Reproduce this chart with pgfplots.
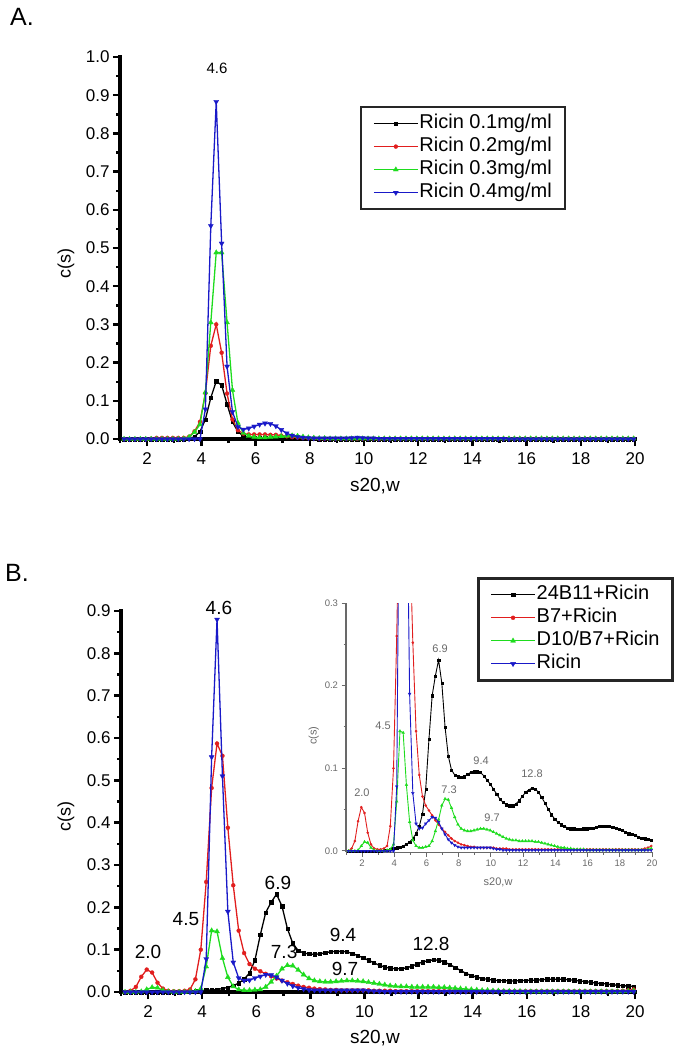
\documentclass[border=0pt]{standalone}
\usepackage{fontspec}
\setmainfont{Liberation Sans}
\usepackage{pgfplots}
\usepackage{pgfplotstable}
\pgfplotsset{compat=1.18}
\definecolor{ored}{RGB}{225,30,30}
\definecolor{ogreen}{RGB}{30,220,30}
\definecolor{oblue}{RGB}{25,25,200}
\definecolor{igray}{RGB}{105,105,105}
\tikzset{axln/.style={black, line width=3.2pt, line cap=rect}, tkln/.style={black, line width=2.4pt}}

\pgfplotstableread{
x a1 a2 a3 a4
1.15 0 0 0 0
1.35 0 0 0 0
1.55 0 0 0 0
1.75 0 0 0 0
1.95 0 0 0 0
2.15 0 0.001 0 0
2.35 0 0.003 0 0
2.55 0 0.003 0 0
2.75 0 0.003 0 0
2.95 0 0.003 0 0
3.15 0 0.003 0 0
3.35 0 0.003 0.001 0
3.55 0.001 0.006 0.005 0
3.75 0.006 0.020 0.018 0
3.95 0.019 0.045 0.038 0
4.15 0.051 0.120 0.122 0.078
4.35 0.108 0.244 0.305 0.558
4.55 0.151 0.300 0.488 0.883
4.75 0.141 0.226 0.488 0.512
4.95 0.091 0.119 0.305 0.190
5.15 0.045 0.051 0.128 0.071
5.35 0.019 0.023 0.042 0.032
5.55 0.008 0.014 0.016 0.025
5.75 0.004 0.012 0.008 0.028
5.95 0.003 0.012 0.005 0.033
6.15 0.002 0.012 0.004 0.038
6.35 0.002 0.012 0.004 0.041
6.55 0.002 0.011 0.005 0.040
6.75 0.002 0.011 0.006 0.034
6.95 0.002 0.009 0.007 0.024
7.15 0.002 0.007 0.008 0.015
7.35 0.002 0.005 0.009 0.009
7.55 0.001 0.004 0.008 0.006
7.75 0.001 0.003 0.006 0.004
7.95 0.001 0.002 0.004 0.003
8.15 0.001 0.002 0.003 0.002
8.35 0 0.001 0.002 0.002
8.55 0 0.001 0.002 0.002
8.75 0 0.001 0.001 0.002
8.95 0 0.001 0.001 0.002
9.15 0 0.001 0.001 0.002
9.35 0 0.001 0.001 0.002
9.55 0 0.001 0.001 0.003
9.75 0 0.001 0.001 0.004
9.95 0 0.001 0.001 0.003
10.15 0 0.001 0.001 0.002
10.35 0 0.001 0.001 0.002
10.55 0 0 0.001 0.001
10.75 0 0.001 0.001 0.001
10.95 0 0.001 0.001 0.001
11.15 0 0.001 0.001 0.001
11.35 0 0.001 0.001 0.001
11.55 0 0.001 0.001 0.001
11.75 0 0.001 0.001 0.001
11.95 0 0.001 0.001 0.001
12.15 0 0.001 0.001 0.001
12.35 0 0.001 0.001 0.001
12.55 0 0.001 0.001 0.001
12.75 0 0.001 0.001 0.001
12.95 0 0.001 0.001 0.001
13.15 0 0.001 0.001 0.001
13.35 0 0.001 0.001 0.001
13.55 0 0.001 0.001 0.001
13.75 0 0.001 0.001 0.001
13.95 0 0.001 0.001 0.001
14.15 0 0.001 0.001 0.001
14.35 0 0.001 0.001 0.001
14.55 0 0.001 0.001 0.001
14.75 0 0.001 0.001 0.001
14.95 0 0.001 0.001 0.001
15.15 0 0.001 0.001 0.001
15.35 0 0.001 0.001 0
15.55 0 0.001 0.001 0
15.75 0 0.001 0.001 0
15.95 0 0.001 0.001 0
16.15 0 0.001 0.001 0
16.35 0 0.001 0.001 0
16.55 0 0.001 0.001 0
16.75 0 0.001 0.001 0
16.95 0 0.001 0.001 0
17.15 0 0.001 0.001 0
17.35 0 0.001 0.001 0
17.55 0 0.001 0.001 0
17.75 0 0.001 0.001 0
17.95 0 0.001 0.001 0
18.15 0 0.001 0.001 0
18.35 0 0.001 0.001 0
18.55 0 0.001 0.001 0
18.75 0 0.001 0.001 0
18.95 0 0.001 0.001 0
19.15 0 0.001 0.001 0
19.35 0 0.001 0.001 0
19.55 0 0.001 0.001 0
19.75 0 0.001 0.001 0
19.95 0 0.001 0.001 0
}\tabA

\pgfplotstableread{
x b1 b2 b3 b4
1.15 0 0 0 0
1.35 0 0.003 0 0
1.55 0 0.012 0 0
1.75 0 0.036 0.001 0
1.95 0 0.053 0.006 0
2.15 0 0.046 0.011 0
2.35 0 0.022 0.010 0
2.55 0 0.008 0.004 0
2.75 0 0.003 0.001 0
2.95 0 0.002 0 0
3.15 0 0.002 0 0
3.35 0.001 0.003 0 0
3.55 0.001 0.006 0.001 0
3.75 0.002 0.030 0.002 0
3.95 0.003 0.100 0.008 0
4.15 0.004 0.260 0.060 0.078
4.35 0.005 0.482 0.145 0.555
4.55 0.006 0.587 0.143 0.880
4.75 0.008 0.558 0.080 0.510
4.95 0.011 0.388 0.035 0.190
5.15 0.015 0.252 0.013 0.070
5.35 0.021 0.145 0.006 0.033
5.55 0.030 0.092 0.004 0.027
5.75 0.045 0.066 0.004 0.028
5.95 0.075 0.055 0.005 0.033
6.15 0.135 0.049 0.006 0.037
6.35 0.188 0.043 0.012 0.041
6.55 0.212 0.037 0.024 0.040
6.75 0.231 0.032 0.038 0.035
6.95 0.203 0.027 0.055 0.027
7.15 0.150 0.023 0.063 0.020
7.35 0.115 0.019 0.062 0.014
7.55 0.098 0.015 0.052 0.010
7.75 0.092 0.012 0.041 0.007
7.95 0.090 0.010 0.032 0.005
8.15 0.089 0.008 0.027 0.004
8.35 0.090 0.007 0.025 0.004
8.55 0.093 0.006 0.024 0.004
8.75 0.095 0.005 0.024 0.004
8.95 0.096 0.005 0.025 0.004
9.15 0.096 0.004 0.026 0.004
9.35 0.095 0.004 0.027 0.004
9.55 0.091 0.004 0.027 0.004
9.75 0.086 0.004 0.026 0.004
9.95 0.081 0.004 0.025 0.004
10.15 0.075 0.004 0.023 0.003
10.35 0.069 0.003 0.021 0.002
10.55 0.063 0.003 0.019 0.002
10.75 0.059 0.003 0.017 0.001
10.95 0.056 0.003 0.015 0.001
11.15 0.055 0.002 0.014 0.001
11.35 0.055 0.002 0.013 0.001
11.55 0.057 0.002 0.013 0.001
11.75 0.061 0.002 0.012 0.001
11.95 0.066 0.002 0.012 0.001
12.15 0.071 0.002 0.012 0.001
12.35 0.074 0.002 0.012 0.001
12.55 0.076 0.002 0.012 0.001
12.75 0.075 0.002 0.011 0.001
12.95 0.071 0.002 0.011 0.001
13.15 0.065 0.002 0.010 0.001
13.35 0.058 0.002 0.009 0.001
13.55 0.051 0.002 0.008 0.001
13.75 0.044 0.002 0.007 0.001
13.95 0.039 0.002 0.006 0.001
14.15 0.035 0.002 0.005 0.001
14.35 0.032 0.002 0.004 0.001
14.55 0.030 0.002 0.004 0.001
14.75 0.028 0.002 0.003 0.001
14.95 0.027 0.002 0.003 0.001
15.15 0.027 0.002 0.002 0.001
15.35 0.026 0.002 0.002 0.001
15.55 0.026 0.002 0.002 0.001
15.75 0.027 0.002 0.002 0.001
15.95 0.027 0.002 0.001 0.001
16.15 0.028 0.002 0.001 0.001
16.35 0.028 0.002 0.001 0.001
16.55 0.029 0.002 0.001 0.001
16.75 0.030 0.002 0.001 0.001
16.95 0.030 0.002 0.001 0.001
17.15 0.030 0.002 0.001 0.001
17.35 0.030 0.002 0.001 0.001
17.55 0.029 0.002 0.001 0.001
17.75 0.028 0.002 0.001 0.001
17.95 0.026 0.002 0.001 0.001
18.15 0.025 0.002 0.001 0.001
18.35 0.023 0.002 0.001 0.001
18.55 0.021 0.002 0.001 0.001
18.75 0.020 0.002 0.001 0.001
18.95 0.019 0.002 0.001 0.001
19.15 0.017 0.002 0.001 0.001
19.35 0.016 0.002 0.001 0.001
19.55 0.015 0.003 0.001 0.001
19.75 0.014 0.004 0.002 0.001
19.95 0.013 0.006 0.003 0.001
}\tabB

\pgfplotsset{
  mainax/.style={
    scale only axis,
    xmin=1, xmax=20, ymin=0,
    axis x line=bottom, axis y line=left,
    axis line style={-, black, line width=3.2pt},
    tick style={black, line width=2.4pt},
    tick align=outside,
    major tick length=7pt, minor tick length=4pt,
    xtick={2,4,6,8,10,12,14,16,18,20},
    minor xtick={1,3,5,7,9,11,13,15,17,19},
    /pgf/number format/assume math mode=true,
    tick label style={font=\fontsize{17}{19}\selectfont},
    xticklabel style={yshift=-3pt},
    yticklabel style={/pgf/number format/fixed,/pgf/number format/fixed zerofill,/pgf/number format/precision=1},
    clip mode=individual,
    xlabel={s20,w}, ylabel={c(s)},
    xlabel style={font=\fontsize{19}{21}\selectfont},
    ylabel style={font=\fontsize{18}{20}\selectfont},
    legend image code/.code={\draw[mark repeat=2,mark phase=2] plot coordinates {(0pt,0pt) (22pt,0pt) (44pt,0pt)};},
    legend cell align=left,
    legend style={draw=black!85, line width=2.4pt, fill=white,
      font=\fontsize{20}{22}\selectfont, inner xsep=12pt, inner ysep=6pt,
      row sep=2pt,
      nodes={inner sep=1pt, text height=14.5pt, text depth=4.5pt},
      /tikz/every even column/.append style={column sep=6pt}},
  },
  sblack/.style={black, line width=1.3pt, mark=square*, mark size=1.7pt, mark options={line width=0.3pt}},
  sred/.style={ored, line width=1.3pt, mark=*, mark size=2pt, mark options={line width=0.3pt}},
  sgreen/.style={ogreen, line width=1.3pt, mark=triangle*, mark size=2.9pt, mark options={line width=0.3pt}},
  sblue/.style={oblue, line width=1.3pt, mark=triangle*, mark size=2.9pt, mark options={rotate=180, line width=0.3pt}},
}

\begin{document}
\begin{tikzpicture}
\path[use as bounding box] (0,0) rectangle (683pt,-1053pt);

\node[font=\fontsize{25}{27}\selectfont] at (22pt,-17pt) {A.};
\node[font=\fontsize{25}{27}\selectfont] at (17pt,-573pt) {B.};

% ---------------- Panel A ----------------
\begin{axis}[mainax,
  at={(120pt,-439pt)}, anchor=south west,
  width=515pt, height=382pt,
  ymax=1.0,
  ytick={0,0.1,0.2,0.3,0.4,0.5,0.6,0.7,0.8,0.9,1.0},
  minor ytick={0.05,0.15,0.25,0.35,0.45,0.55,0.65,0.75,0.85,0.95},
  xlabel style={at={(axis description cs:0.495,-0.123)}, anchor=center},
  ylabel style={at={(axis description cs:-0.105,0.46)}, anchor=center},
  legend style={at={(axis description cs:0.466,0.872)}, anchor=north west},
]
\draw[axln] (rel axis cs:0,0) -- (rel axis cs:0,1);
\draw[axln] (rel axis cs:0,0) -- (rel axis cs:1,0);
\pgfplotsinvokeforeach{0.1,0.2,0.3,0.4,0.5,0.6,0.7,0.8,0.9,1.0}{\draw[tkln] (axis cs:1,#1) -- ++(-7pt,0pt);}
\pgfplotsinvokeforeach{0.05,0.15,0.25,0.35,0.45,0.55,0.65,0.75,0.85,0.95}{\draw[tkln] (axis cs:1,#1) -- ++(-4pt,0pt);}
\pgfplotsinvokeforeach{2,4,6,8,10,12,14,16,18,20}{\draw[tkln] (axis cs:#1,0) -- ++(0pt,-7pt);}
\pgfplotsinvokeforeach{3,5,7,9,11,13,15,17,19}{\draw[tkln] (axis cs:#1,0) -- ++(0pt,-4pt);}
\addplot[sblack] table[x=x,y=a1]{\tabA};
\addplot[sred] table[x=x,y=a2]{\tabA};
\addplot[sgreen] table[x=x,y=a3]{\tabA};
\addplot[sblue] table[x=x,y=a4]{\tabA};
\legend{Ricin 0.1mg/ml, Ricin 0.2mg/ml, Ricin 0.3mg/ml, Ricin 0.4mg/ml}
\node[font=\fontsize{15}{17}\selectfont] at (axis cs:4.58,0.971) {4.6};
\end{axis}

% ---------------- Panel B ----------------
\begin{axis}[mainax,
  at={(121pt,-992pt)}, anchor=south west,
  width=514pt, height=381pt,
  ymax=0.9,
  ytick={0,0.1,0.2,0.3,0.4,0.5,0.6,0.7,0.8,0.9},
  minor ytick={0.05,0.15,0.25,0.35,0.45,0.55,0.65,0.75,0.85},
  xlabel style={at={(axis description cs:0.494,-0.121)}, anchor=center},
  ylabel style={at={(axis description cs:-0.107,0.46)}, anchor=center},
  legend style={at={(axis description cs:0.693,1.089)}, anchor=north west},
]
\draw[axln] (rel axis cs:0,0) -- (rel axis cs:0,1);
\draw[axln] (rel axis cs:0,0) -- (rel axis cs:1,0);
\pgfplotsinvokeforeach{0.1,0.2,0.3,0.4,0.5,0.6,0.7,0.8,0.9}{\draw[tkln] (axis cs:1,#1) -- ++(-7pt,0pt);}
\pgfplotsinvokeforeach{0.05,0.15,0.25,0.35,0.45,0.55,0.65,0.75,0.85}{\draw[tkln] (axis cs:1,#1) -- ++(-4pt,0pt);}
\pgfplotsinvokeforeach{2,4,6,8,10,12,14,16,18,20}{\draw[tkln] (axis cs:#1,0) -- ++(0pt,-7pt);}
\pgfplotsinvokeforeach{3,5,7,9,11,13,15,17,19}{\draw[tkln] (axis cs:#1,0) -- ++(0pt,-4pt);}
\addplot[sblack] table[x=x,y=b1]{\tabB};
\addplot[sred] table[x=x,y=b2]{\tabB};
\addplot[sgreen] table[x=x,y=b3]{\tabB};
\addplot[sblue] table[x=x,y=b4]{\tabB};
\legend{24B11+Ricin, B7+Ricin, D10/B7+Ricin, Ricin}
\begin{scope}[font=\fontsize{19}{21}\selectfont]
\node at (axis cs:4.62,0.907) {4.6};
\node at (axis cs:3.40,0.172) {4.5};
\node at (axis cs:6.80,0.257) {6.9};
\node at (axis cs:2.00,0.0945) {2.0};
\node at (axis cs:7.03,0.0945) {7.3};
\node at (axis cs:9.21,0.135) {9.4};
\node at (axis cs:9.28,0.054) {9.7};
\node at (axis cs:12.46,0.113) {12.8};
\end{scope}
\end{axis}

% ---------------- Inset ----------------
\begin{axis}[
  scale only axis,
  at={(346pt,-852.2pt)}, anchor=south west,
  width=306pt, height=249.2pt,
  xmin=1, xmax=20, ymin=-0.0015, ymax=0.3,
  axis x line=bottom, axis y line=left,
  axis line style={-, igray, line width=1.4pt},
  tick align=outside,
  major tick length=4.5pt, minor tick length=2.5pt,
  tick style={igray, line width=1pt},
  xtick={2,4,6,8,10,12,14,16,18,20},
  minor xtick={1,3,5,7,9,11,13,15,17,19},
  ytick={0,0.1,0.2,0.3},
  minor ytick={0.05,0.15,0.25},
  /pgf/number format/assume math mode=true,
  tick label style={font=\fontsize{9.5}{11}\selectfont, text=igray},
  yticklabel style={/pgf/number format/fixed,/pgf/number format/fixed zerofill,/pgf/number format/precision=1},
  clip mode=individual,
  xlabel={s20,w}, ylabel={c(s)},
  xlabel style={font=\fontsize{11}{13}\selectfont, text=igray, at={(axis description cs:0.497,-0.121)}, anchor=center},
  ylabel style={font=\fontsize{11}{13}\selectfont, text=igray, at={(axis description cs:-0.105,0.468)}, anchor=center},
]
\addplot[black, line width=0.9pt, mark=square*, mark size=1.1pt, mark options={line width=0.2pt}] table[x=x,y=b1]{\tabB};
\addplot[ored, line width=0.9pt, mark=*, mark size=1.2pt, mark options={line width=0.2pt}] table[x=x,y=b2]{\tabB};
\addplot[ogreen, line width=0.9pt, mark=triangle*, mark size=1.7pt, mark options={line width=0.2pt}] table[x=x,y=b3]{\tabB};
\addplot[oblue, line width=0.9pt, mark=triangle*, mark size=1.7pt, mark options={rotate=180, line width=0.2pt}] table[x=x,y=b4]{\tabB};
\begin{scope}[font=\fontsize{11}{13}\selectfont, text=igray]
\node at (axis cs:1.99,0.070) {2.0};
\node at (axis cs:3.30,0.152) {4.5};
\node at (axis cs:6.84,0.245) {6.9};
\node at (axis cs:9.39,0.109) {9.4};
\node at (axis cs:12.55,0.093) {12.8};
\node at (axis cs:7.40,0.074) {7.3};
\node at (axis cs:10.07,0.040) {9.7};
\end{scope}
\end{axis}
\end{tikzpicture}
\end{document}
